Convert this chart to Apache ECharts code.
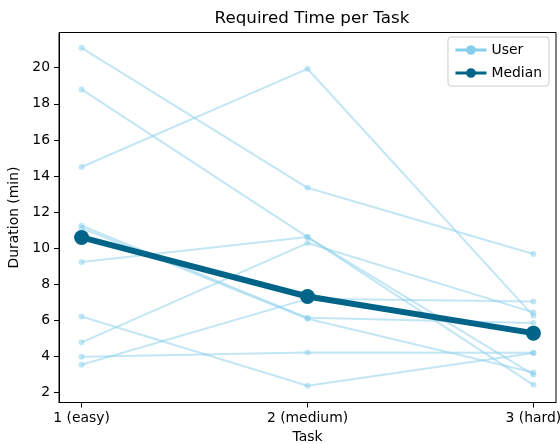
<!DOCTYPE html>
<html>
<head>
<meta charset="utf-8">
<script src="https://cdn.jsdelivr.net/npm/echarts@6/dist/echarts.min.js"></script>
<style>html,body{margin:0;padding:0;background:#fff}#c{width:560px;height:444px}</style>
</head>
<body>
<div id="c"></div>
<script>
const taskLabels = ['1 (easy)', '2 (medium)', '3 (hard)'];
const taskPositions = [1, 2, 3];
const yTicks = [2, 4, 6, 8, 10, 12, 14, 16, 18, 20];

const userA = [21.1, 13.35, 9.68];
const userB = [18.8, 10.62, 3.0];
const userC = [14.5, 19.94, 6.26];
const userD = [11.25, 6.15, 5.86];
const userE = [11.12, 6.1, 3.12];
const userF = [9.24, 10.62, 2.44];
const userG = [6.22, 2.39, 4.2];
const userH = [4.79, 10.29, 6.45];
const userI = [3.99, 4.23, 4.22];
const userJ = [3.55, 7.2, 7.06];
const users = [userA, userB, userC, userD, userE, userF, userG, userH, userI, userJ];
const median = [10.6, 7.33, 5.3];

const FONT = 'DejaVu Sans';
const userColor = '#87ceeb';
const medianColor = '#006489';

const toPts = arr => taskPositions.map((x, i) => [x, arr[i]]);

const series = users.map(u => ({
  name: 'User',
  type: 'line',
  data: toPts(u),
  symbol: 'circle',
  symbolSize: 6,
  lineStyle: { color: userColor, width: 2, opacity: 0.5 },
  itemStyle: { color: userColor, opacity: 0.5 },
  emphasis: { disabled: true },
  animation: false,
  z: 2
}));
series.push({
  name: 'Median',
  type: 'line',
  data: toPts(median),
  symbol: 'circle',
  symbolSize: 15,
  lineStyle: { color: medianColor, width: 6 },
  itemStyle: { color: medianColor },
  emphasis: { disabled: true },
  animation: false,
  z: 5
});

const chart = echarts.init(document.getElementById('c'), null, { renderer: 'canvas' });
chart.setOption({
  backgroundColor: '#fff',
  animation: false,
  title: {
    text: 'Required Time per Task',
    left: 307, top: 5, textAlign: 'center',
    textStyle: { fontFamily: FONT, fontSize: 16.7, fontWeight: 'normal', color: '#000' }
  },
  legend: {
    right: 11, top: 37,
    orient: 'vertical',
    align: 'left',
    itemWidth: 31, itemHeight: 12, itemGap: 9,
    padding: [6, 7, 6, 6],
    borderColor: '#cccccc', borderWidth: 1, borderRadius: 3,
    backgroundColor: 'rgba(255,255,255,0.8)',
    textStyle: { fontFamily: FONT, fontSize: 13.9, color: '#000' },
    data: [
      { name: 'User', itemStyle: { color: userColor, opacity: 1 }, lineStyle: { color: userColor, width: 3, opacity: 1 } },
      { name: 'Median', itemStyle: { color: medianColor, opacity: 1 }, lineStyle: { color: medianColor, width: 3, opacity: 1 } }
    ]
  },
  grid: {
    left: 59, right: 4, top: 32.5, bottom: 41.5,
    containLabel: false, outerBoundsMode: 'none',
    show: true, borderColor: '#000', borderWidth: 1, backgroundColor: 'transparent'
  },
  xAxis: {
    type: 'value', min: 0.9, max: 3.1,
    name: 'Task', nameLocation: 'middle', nameGap: 28,
    nameTextStyle: { fontFamily: FONT, fontSize: 13.9, color: '#000' },
    axisLine: { show: true, lineStyle: { color: '#000', width: 1 } },
    axisTick: { show: true, length: 5, customValues: taskPositions, lineStyle: { color: '#000' } },
    axisLabel: {
      customValues: taskPositions, margin: 9,
      fontFamily: FONT, fontSize: 13.9, color: '#000',
      formatter: v => taskLabels[taskPositions.indexOf(Math.round(v))] || ''
    },
    splitLine: { show: false }
  },
  yAxis: {
    type: 'value', min: 1.46, max: 21.95,
    name: 'Duration (min)', nameLocation: 'middle', nameGap: 33, nameRotate: 90,
    nameTextStyle: { fontFamily: FONT, fontSize: 13.9, color: '#000' },
    axisLine: { show: true, lineStyle: { color: '#000', width: 1 } },
    axisTick: { show: true, length: 5, customValues: yTicks, lineStyle: { color: '#000' } },
    axisLabel: {
      customValues: yTicks, margin: 9,
      fontFamily: FONT, fontSize: 13.9, color: '#000'
    },
    splitLine: { show: false }
  },
  series: series
});
</script>
</body>
</html>
